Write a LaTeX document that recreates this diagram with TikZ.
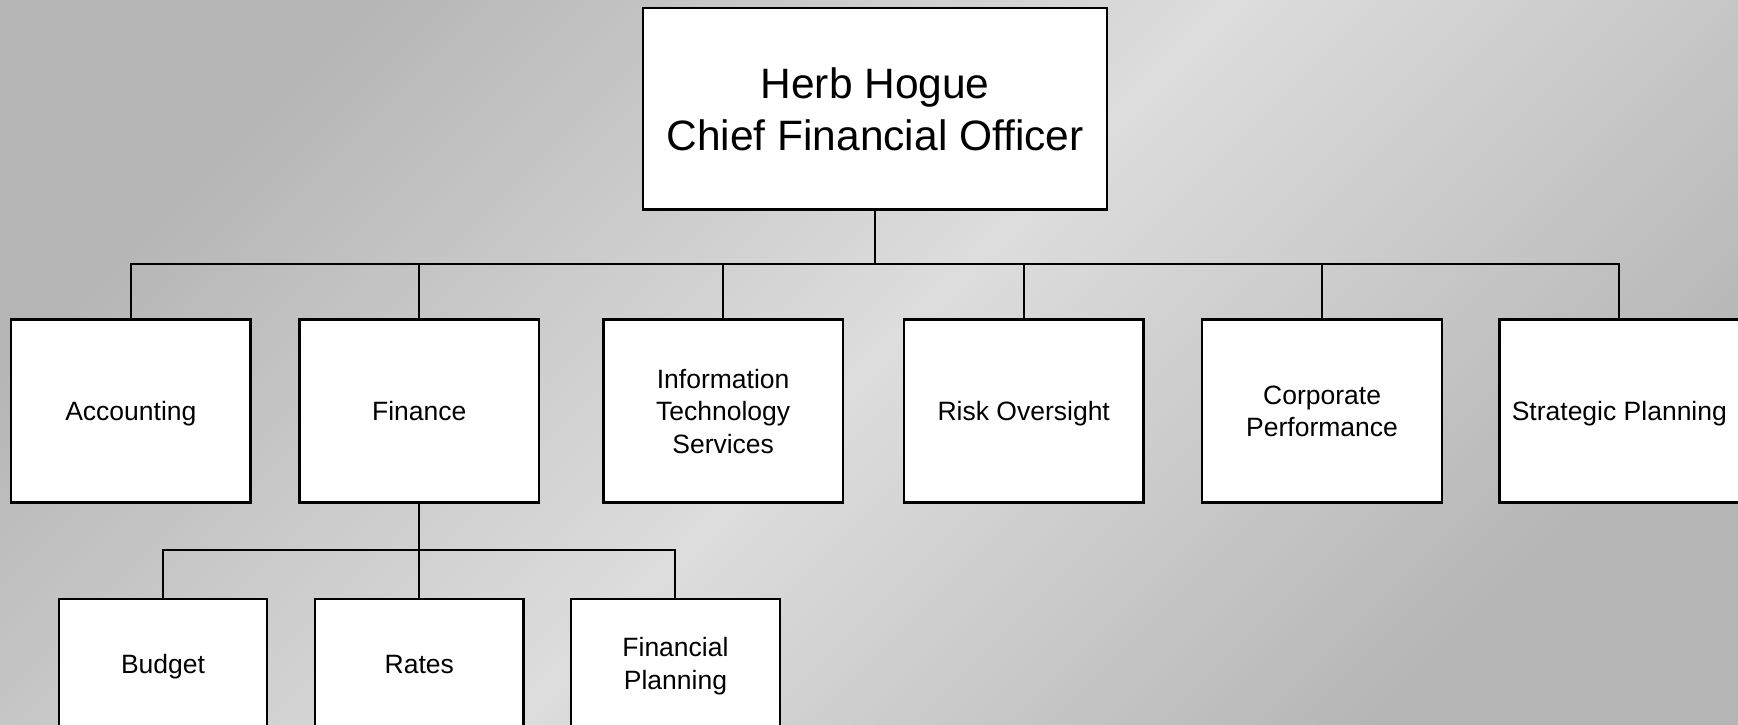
\documentclass[tikz,border=0pt]{standalone}
\usepackage{fontspec}
\setmainfont{Liberation Sans}
\usepackage{xcolor}
\usepackage{tikz}
\usetikzlibrary{calc}
\definecolor{bgdark}{HTML}{B5B5B5}
\definecolor{bglight}{HTML}{DDDDDD}
\newcommand{\capstrut}{\rule[-0.23em]{0pt}{1.2em}}
\tikzstyle{headbox} = [draw=black, fill=white, line width=0.6pt, inner sep=0pt, minimum width=4.18cm, minimum height=1.82cm, align=center, font=\fontsize{10.9}{13.3}\selectfont]
\tikzstyle{deptbox} = [draw=black, fill=white, line width=0.6pt, inner sep=0pt, minimum width=2.16cm, minimum height=1.65cm, align=center, font=\fontsize{6.8}{8.3}\selectfont]
\tikzstyle{subbox} = [deptbox, minimum width=1.88cm, minimum height=1.16cm]
\tikzstyle{link} = [line width=0.5pt]

\begin{document}
\begin{tikzpicture}
			\useasboundingbox (0,0) rectangle (15.67,6.53);
			\shade [left color=bgdark, right color=bgdark, middle color=bglight, shading angle=45] (-0.1,-0.1) rectangle (15.8,6.6);
			
			\node [headbox] (cfo) at (7.89, 5.55) {\capstrut Herb Hogue\\Chief Financial Officer\capstrut};
			
			\node [deptbox] (acc) at (1.18, 2.825) {\capstrut Accounting};
			\node [deptbox] (fin) at (3.78, 2.825) {\capstrut Finance};
			\node [deptbox] (its) at (6.52, 2.825) {\capstrut Information\\Technology\\Services\capstrut};
			\node [deptbox] (risk) at (9.23, 2.825) {\capstrut Risk Oversight};
			\node [deptbox] (corp) at (11.92, 2.825) {\capstrut Corporate\\Performance\capstrut};
			\node [deptbox] (strat) at (14.60, 2.825) {\capstrut Strategic Planning};
			
			\node [subbox] (bud) at (1.47, 0.55) {\capstrut Budget};
			\node [subbox] (rat) at (3.78, 0.55) {\capstrut Rates};
			\node [subbox] (fpl) at (6.09, 0.55) {\capstrut Financial\\Planning\capstrut};
			
			\coordinate (bus) at (7.89, 4.15);
			\draw [link] (cfo.south) -- (bus);
			\draw [link] (bus) -| (acc.north);
			\draw [link] (bus) -| (fin.north);
			\draw [link] (bus) -| (its.north);
			\draw [link] (bus) -| (risk.north);
			\draw [link] (bus) -| (corp.north);
			\draw [link] (bus) -| (strat.north);
			
			\coordinate (finbus) at (3.78, 1.57);
			\draw [link] (fin.south) -- (finbus);
			\draw [link] (finbus) -| (bud.north);
			\draw [link] (finbus) -- (rat.north);
			\draw [link] (finbus) -| (fpl.north);
			
		\end{tikzpicture}
\end{document}
